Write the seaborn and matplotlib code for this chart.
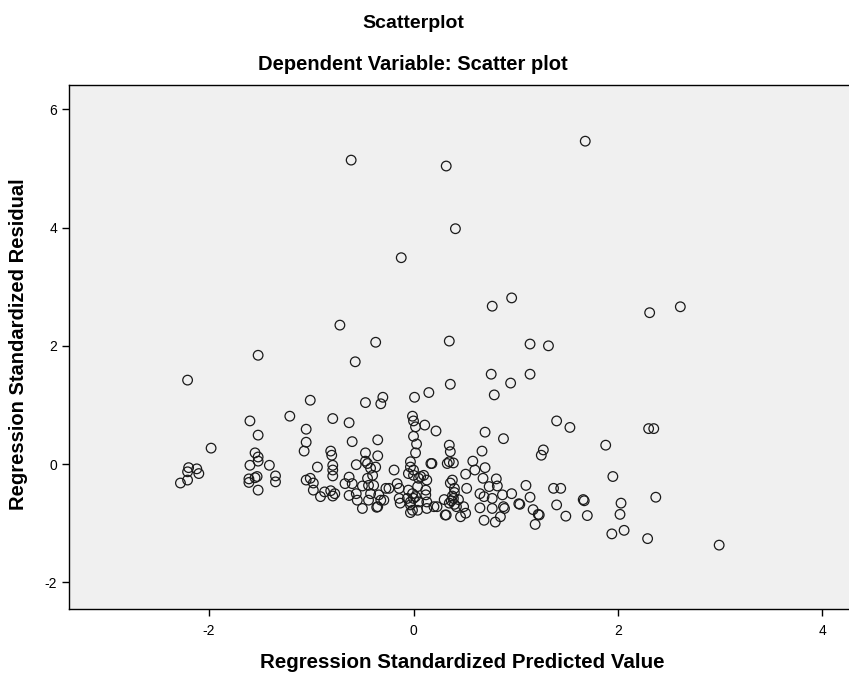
import matplotlib
matplotlib.use("Agg")
import matplotlib.pyplot as plt
import seaborn as sns
import pandas as pd

# Regression standardized predicted value (x) and residual (y)
pred = [
    1.68, -0.61, 0.32, 0.41, -0.12, 0.96, 0.77, 2.61, 2.31, -0.72, -0.37, 0.35, 1.14, 1.32,
    -2.21, -1.52, -0.57, 0.36, 0.95, 0.76, 1.14, 0.79, 0.15, 0.01, -0.30, -0.32, -0.47, -1.01,
    -1.21, -1.60, -0.79, -0.63, -1.05, -1.05, -1.07, -1.98, -1.52, -0.60, -0.35, -0.01, 0.00,
    0.02, 0.11, 0.22, 0.00, 0.03, 0.02, 0.35, 0.36, 0.70, 0.88, 1.40, 1.53, 2.30, 2.35, 1.88,
    1.27, 1.25, 0.67, -0.47, -0.35, -0.81, -0.80, -1.55, -1.52,
    -2.20, -2.12, -2.21, -2.10, -2.21, -2.28,
    -1.52, -1.60, -1.41, -1.53, -1.55, -1.61, -1.61, -1.35, -1.35, -1.52,
    -0.94, -0.79, -0.79, -0.79, -1.05, -1.01, -0.98, -0.98, -0.91, -0.87, -0.81, -0.77, -0.79,
    -0.56, -0.47, -0.45, -0.42, -0.40, -0.45, -0.63, -0.67, -0.60, -0.63, -0.55, -0.50, -0.56,
    -0.50, -0.44, -0.39, -0.42, -0.34, -0.35, -0.44, -0.32, -0.29, -0.24, -0.27, -0.19, -0.16,
    -0.14, -0.14, -0.13, -0.06, -0.37, -0.36,
    -0.03, -0.03, 0.00, -0.05, 0.00, 0.05, 0.10, 0.13, 0.17, 0.18, 0.07, 0.04, -0.05, -0.01,
    0.02, -0.03, 0.05, -0.01, 0.12, 0.13, 0.13, 0.20, 0.12, 0.04, -0.03, 0.00, 0.23, -0.03,
    0.35, 0.39, 0.33, 0.38, 0.36, 0.40, 0.40, 0.38, 0.39, 0.35, 0.40, 0.42, 0.30, 0.31, 0.37,
    0.44, 0.32,
    0.58, 0.70, 0.60, 0.51, 0.68, 0.81, 0.82, 0.74, 0.52, 0.49, 0.46, 0.51, 0.65, 0.69, 0.77,
    0.87, 0.96, 1.03, 1.10, 1.14, 1.17, 1.23, 1.19, 0.65, 0.77, 0.69, 0.80, 0.88, 0.85, 1.22,
    1.04, 0.89,
    1.37, 1.44, 1.40, 1.49, 1.66, 1.70, 2.03, 2.02, 2.37, 1.94, 2.06, 2.29, 2.99, 1.95, 1.67,
]
resid = [
    5.46, 5.14, 5.04, 3.98, 3.49, 2.81, 2.67, 2.66, 2.56, 2.35, 2.06, 2.08, 2.03, 2.00,
    1.42, 1.84, 1.73, 1.35, 1.37, 1.52, 1.52, 1.17, 1.21, 1.13, 1.13, 1.02, 1.04, 1.08,
    0.81, 0.73, 0.77, 0.70, 0.59, 0.37, 0.22, 0.27, 0.49, 0.38, 0.41, 0.81, 0.73,
    0.63, 0.66, 0.56, 0.47, 0.34, 0.19, 0.32, 0.21, 0.54, 0.43, 0.73, 0.62, 0.60, 0.60, 0.32,
    0.24, 0.15, 0.22, 0.19, 0.14, 0.22, 0.15, 0.19, 0.12,
    -0.06, -0.08, -0.13, -0.16, -0.27, -0.32,
    0.05, -0.02, -0.02, -0.21, -0.23, -0.25, -0.31, -0.20, -0.30, -0.44,
    -0.05, -0.02, -0.10, -0.20, -0.27, -0.24, -0.32, -0.44, -0.55, -0.47, -0.45, -0.50, -0.54,
    -0.01, 0.05, 0.01, -0.07, -0.19, -0.24, -0.22, -0.33, -0.33, -0.53, -0.61, -0.75, -0.50,
    -0.37, -0.36, -0.36, -0.50, -0.52, -0.72, -0.61, -0.61, -0.61, -0.41, -0.41, -0.10, -0.33,
    -0.41, -0.58, -0.66, -0.58, -0.05, -0.73,
    0.04, -0.05, -0.10, -0.16, -0.19, -0.24, -0.19, -0.27, 0.01, 0.01, -0.21, -0.38, -0.44, -0.50,
    -0.55, -0.64, -0.64, -0.78, -0.52, -0.64, -0.75, -0.72, -0.44, -0.78, -0.69, -0.58, -0.72, -0.82,
    0.04, 0.02, 0.01, -0.27, -0.32, -0.41, -0.48, -0.54, -0.58, -0.66, -0.68, -0.72, -0.60, -0.86, -0.62,
    -0.60, -0.86,
    0.05, -0.06, -0.10, -0.17, -0.24, -0.25, -0.37, -0.38, -0.41, -0.72, -0.89, -0.83, -0.50, -0.55, -0.58,
    -0.52, -0.50, -0.67, -0.36, -0.56, -0.77, -0.86, -1.02, -0.74, -0.75, -0.95, -0.98, -0.72, -0.89, -0.85,
    -0.68, -0.75,
    -0.41, -0.41, -0.69, -0.88, -0.60, -0.87, -0.66, -0.85, -0.56, -1.18, -1.12, -1.26, -1.37, -0.21, -0.62,
]

df = pd.DataFrame({"pred": pred, "resid": resid})

plt.rcParams["font.family"] = ["Liberation Sans", "DejaVu Sans"]

fig = plt.figure(figsize=(8.49, 6.77), dpi=100)
ax = fig.add_axes([69 / 849, 68 / 677, 1 - 69 / 849, (609 - 85) / 677])
ax.set_facecolor("#f0f0f0")

sns.scatterplot(data=df, x="pred", y="resid", ax=ax, marker="o", s=48,
                facecolors="none", edgecolor="#1a1a1a", linewidth=0.9)

ax.set_xlim(-3.37, 4.26)
ax.set_ylim(-2.45, 6.41)
ax.set_xticks([-2, 0, 2, 4])
ax.set_yticks([-2, 0, 2, 4, 6])
ax.set_xticklabels(["-2", "0", "2", "4"])
ax.set_yticklabels(["-2", "0", "2", "4", "6"])
ax.tick_params(direction="out", length=5, width=1, labelsize=10, colors="black")
ax.tick_params(axis="x", pad=6)
for side in ["left", "bottom", "top"]:
    ax.spines[side].set_color("black")
    ax.spines[side].set_linewidth(1)
ax.spines["right"].set_visible(False)

ax.set_xlabel("")
ax.set_ylabel("")
fig.text(462 / 849, 1 - 663 / 677, "Regression Standardized Predicted Value",
         ha="center", va="center", fontsize=14.8, fontweight="bold")
fig.text(19 / 849, 1 - 344 / 677, "Regression Standardized Residual", rotation=90,
         ha="center", va="center", fontsize=14.5, fontweight="bold")

fig.text(413 / 849, 1 - 23 / 677, "Scatterplot", ha="center", va="center",
         fontsize=14, fontweight="bold")
fig.text(413 / 849, 1 - 64 / 677, "Dependent Variable: Scatter plot", ha="center",
         va="center", fontsize=14.5, fontweight="bold")

fig.savefig("out.png", dpi=100, facecolor="white")
